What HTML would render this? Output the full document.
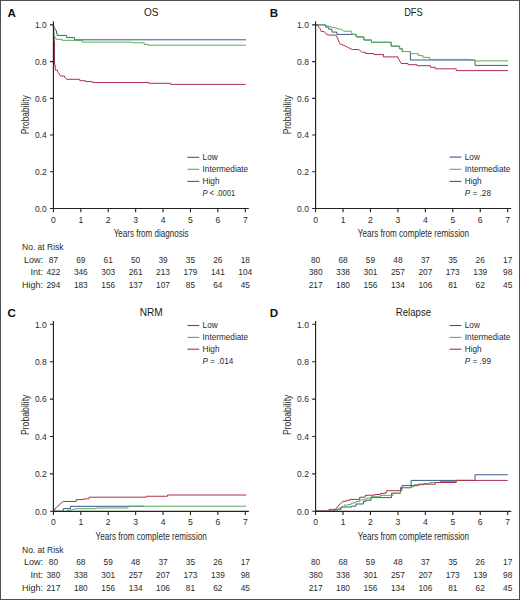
<!DOCTYPE html>
<html><head><meta charset="utf-8"><style>html,body{margin:0;padding:0;background:#fff;width:520px;height:600px;overflow:hidden;}body{font-family:"Liberation Sans", sans-serif;position:relative;}</style></head><body>
<svg width="520" height="600" viewBox="0 0 520 600" style="position:absolute;left:0;top:0" font-family="'Liberation Sans', sans-serif">
<rect x="0" y="0" width="520" height="600" fill="#fff"/>
<path d="M53.4 24.9 L54.5 27.5 L55.8 30.7 H56.5 V33.3 H57.2 V35.4 H66.7 V37.6 H74.5 V39.8 H246" fill="none" stroke="#395b8a" stroke-width="1.0" stroke-linejoin="miter"/>
<path d="M53.4 24.9 L54.2 33 L55 38.5 H56 V39.3 H62 V40.3 H75 V40.6 H82.3 V42.1 H132.3 V42.8 H144.2 V44.4 H148 V45.2 H246" fill="none" stroke="#5aae5a" stroke-width="1.0" stroke-linejoin="miter"/>
<path d="M53.9 36 L54.3 41 V65 H55.2 V70.2 H57.5 V71.3 L60.5 76 H64.5 V77 L66.5 79.3 H79.8 V80.7 H85.6 V81.6 H92.5 V82.5 H148.75 V83.3 H170.6 V84.4 H245.6" fill="none" stroke="#ad2f4c" stroke-width="1.0" stroke-linejoin="miter"/>
<path d="M54.3 41 V64" stroke="#7a2a40" stroke-width="1" fill="none"/>
<path d="M315.6 24.9 H325.6 V27.2 H328.7 V29.2 H331.9 V32.1 H336.8 V34.4 H356.2 V36.9 H363.8 V40 H371.5 V42.3 H391.2 V46.2 H399.6 V48.8 H402.3 V51.5 H410.4 V60 H475 V65.4 H508" fill="none" stroke="#395b8a" stroke-width="1.0" stroke-linejoin="miter"/>
<path d="M315.6 24.9 H325 L327 25.8 L331 26.9 L335 27.8 L338 28.7 L342 29.4 L343.5 31.2 H351.5 V32.3 L352.5 34.4 H356.2 V36.9 H363.8 V40 H371.5 V42.3 H391.2 V46.2 H399.6 V48.8 H402.3 V51.5 H410.3 V53.7 H418.5 V55.6 H422.8 V57.3 H429.5 V59.4 H470 V60.3 H475 V60.9 H508" fill="none" stroke="#5aae5a" stroke-width="1.0" stroke-linejoin="miter"/>
<path d="M315.6 24.9 H317.8 L318.5 27 L320 28.5 L321.2 31.5 H324.1 L326.4 34.4 L329.3 35.1 H336.2 V35.6 L337.5 38 L339 42 L340.3 44.2 L343 45 L347.7 47.3 L352.3 49.5 H358.8 L362.3 52.3 H365.4 V53.5 H373.8 V54.6 H383.5 V56.9 H398 V58 L401.2 63.5 H408 V64.7 H417 V65.7 H430.5 V67.3 H435.3 V68.8 H456.25 V70.6 H508" fill="none" stroke="#ad2f4c" stroke-width="1.0" stroke-linejoin="miter"/>
<path d="M53.4 511.3 H63.25 V508.6 H70.5 V506.3 H144" fill="none" stroke="#395b8a" stroke-width="1.0" stroke-linejoin="miter"/>
<path d="M53.4 511.3 H66 L69 510 H72 V509.5 L76 508.75 H95.9 V508 H128 V506.2 H246" fill="none" stroke="#5aae5a" stroke-width="1.0" stroke-linejoin="miter"/>
<path d="M53.4 511.3 L56.5 507 L60.1 504.4 L61.5 502.5 L63.5 501.5 H76.2 V499.6 H83.8 V498.8 H89.1 V497.2 H146.25 V496.25 H167.5 V495 H246.25" fill="none" stroke="#ad2f4c" stroke-width="1.0" stroke-linejoin="miter"/>
<path d="M315.6 511.2 H329 V509.4 H341 V507 H351.5 V506.2 H356 V504 H363.4 V501.5 H365.8 V500.3 H371.1 V497.6 H391.5 V493.3 H400.5 V487.7 H411.1 V480.4 H475 V474.75 H507.75" fill="none" stroke="#395b8a" stroke-width="1.0" stroke-linejoin="miter"/>
<path d="M315.6 511.2 H337 L339.5 507.8 H341.8 V506.8 H344.2 V505.1 H348 V504.6 H351 V503.2 H353 V502.8 H356 V501.5 H359.7 V500 H364.6 V499 H367 V498.2 H371.1 V496.7 H380.5 V495.4 H393 V493.1 H400.5 V490.3 L402 487.7 H410.5 V486.9 H414 V484.8 H423.8 V483.6 H429.6 V482.5 H440 V481.5 H456 V480.4 H470" fill="none" stroke="#5aae5a" stroke-width="1.0" stroke-linejoin="miter"/>
<path d="M315.6 511.2 H334 L335.4 509.4 L337.2 507.1 L339 505 L341.4 502.9 L342.5 501.3 H346.2 V500.3 H349.8 V499.4 H359.7 V497.2 H365.2 V495.4 H368 V495.2 H374.9 V494.5 H380.5 V493.4 H385.3 V492.4 H386.7 V490.7 H401.9 V485.6 H418.1 V484.2 H435.4 V482.5 H456.25 V480.4 H507.75" fill="none" stroke="#ad2f4c" stroke-width="1.0" stroke-linejoin="miter"/>
<path d="M53.40 21.30 V208.50 H248.87" fill="none" stroke="#222" stroke-width="1.15"/>
<path d="M50.00 208.50 H53.40 M50.00 171.78 H53.40 M50.00 135.06 H53.40 M50.00 98.34 H53.40 M50.00 61.62 H53.40 M50.00 24.90 H53.40 M53.40 208.50 V212.30 M80.81 208.50 V212.30 M108.22 208.50 V212.30 M135.63 208.50 V212.30 M163.04 208.50 V212.30 M190.45 208.50 V212.30 M217.86 208.50 V212.30 M245.27 208.50 V212.30" fill="none" stroke="#222" stroke-width="1.1"/>
<text x="46.70" y="211.70" font-size="9.0" text-anchor="end" font-weight="normal" font-style="normal" fill="#2a2a2a" textLength="11.8" lengthAdjust="spacingAndGlyphs">0.0</text>
<text x="46.70" y="174.98" font-size="9.0" text-anchor="end" font-weight="normal" font-style="normal" fill="#2a2a2a" textLength="11.8" lengthAdjust="spacingAndGlyphs">0.2</text>
<text x="46.70" y="138.26" font-size="9.0" text-anchor="end" font-weight="normal" font-style="normal" fill="#2a2a2a" textLength="11.8" lengthAdjust="spacingAndGlyphs">0.4</text>
<text x="46.70" y="101.54" font-size="9.0" text-anchor="end" font-weight="normal" font-style="normal" fill="#2a2a2a" textLength="11.8" lengthAdjust="spacingAndGlyphs">0.6</text>
<text x="46.70" y="64.82" font-size="9.0" text-anchor="end" font-weight="normal" font-style="normal" fill="#2a2a2a" textLength="11.8" lengthAdjust="spacingAndGlyphs">0.8</text>
<text x="46.70" y="28.10" font-size="9.0" text-anchor="end" font-weight="normal" font-style="normal" fill="#2a2a2a" textLength="11.8" lengthAdjust="spacingAndGlyphs">1.0</text>
<text x="53.40" y="222.50" font-size="8.6" text-anchor="middle" font-weight="normal" font-style="normal" fill="#2a2a2a" >0</text>
<text x="80.81" y="222.50" font-size="8.6" text-anchor="middle" font-weight="normal" font-style="normal" fill="#2a2a2a" >1</text>
<text x="108.22" y="222.50" font-size="8.6" text-anchor="middle" font-weight="normal" font-style="normal" fill="#2a2a2a" >2</text>
<text x="135.63" y="222.50" font-size="8.6" text-anchor="middle" font-weight="normal" font-style="normal" fill="#2a2a2a" >3</text>
<text x="163.04" y="222.50" font-size="8.6" text-anchor="middle" font-weight="normal" font-style="normal" fill="#2a2a2a" >4</text>
<text x="190.45" y="222.50" font-size="8.6" text-anchor="middle" font-weight="normal" font-style="normal" fill="#2a2a2a" >5</text>
<text x="217.86" y="222.50" font-size="8.6" text-anchor="middle" font-weight="normal" font-style="normal" fill="#2a2a2a" >6</text>
<text x="245.27" y="222.50" font-size="8.6" text-anchor="middle" font-weight="normal" font-style="normal" fill="#2a2a2a" >7</text>
<text x="151.13" y="15.90" font-size="10.4" text-anchor="middle" font-weight="normal" font-style="normal" fill="#1a1a1a" textLength="14.5" lengthAdjust="spacingAndGlyphs">OS</text>
<text x="7.60" y="17.30" font-size="11.6" text-anchor="start" font-weight="bold" font-style="normal" fill="#111" >A</text>
<text x="151.13" y="236.50" font-size="10.2" text-anchor="middle" font-weight="normal" font-style="normal" fill="#2a2a2a" textLength="75" lengthAdjust="spacingAndGlyphs">Years from diagnosis</text>
<text transform="translate(28.60 114.80) rotate(-90)" x="0" y="0" font-size="10" text-anchor="middle" fill="#2a2a2a" textLength="39" lengthAdjust="spacingAndGlyphs">Probability</text>
<path d="M187.40 157.30 H199.20" stroke="#395b8a" stroke-width="1.1"/>
<text x="202.60" y="160.20" font-size="8.2" text-anchor="start" font-weight="normal" font-style="normal" fill="#2a2a2a" >Low</text>
<path d="M187.40 169.30 H199.20" stroke="#5aae5a" stroke-width="1.1"/>
<text x="202.60" y="172.20" font-size="8.2" text-anchor="start" font-weight="normal" font-style="normal" fill="#2a2a2a" >Intermediate</text>
<path d="M187.40 181.40 H199.20" stroke="#ad2f4c" stroke-width="1.1"/>
<text x="202.60" y="184.30" font-size="8.2" text-anchor="start" font-weight="normal" font-style="normal" fill="#2a2a2a" >High</text>
<text x="202.60" y="195.80" font-size="8.2" fill="#2a2a2a" textLength="32.5" lengthAdjust="spacingAndGlyphs"><tspan font-style="italic">P</tspan> &lt; .0001</text>
<text x="22.00" y="250.00" font-size="9.0" text-anchor="start" font-weight="normal" font-style="normal" fill="#2a2a2a" textLength="41.6" lengthAdjust="spacingAndGlyphs">No. at Risk</text>
<text x="43.00" y="262.60" font-size="9.0" text-anchor="end" font-weight="normal" font-style="normal" fill="#2a2a2a" >Low:</text>
<text x="43.00" y="275.40" font-size="9.0" text-anchor="end" font-weight="normal" font-style="normal" fill="#2a2a2a" >Int:</text>
<text x="43.00" y="288.00" font-size="9.0" text-anchor="end" font-weight="normal" font-style="normal" fill="#2a2a2a" >High:</text>
<text x="53.40" y="262.60" font-size="9.4" text-anchor="middle" font-weight="normal" font-style="normal" fill="#2a2a2a" textLength="9.24" lengthAdjust="spacingAndGlyphs">87</text>
<text x="80.81" y="262.60" font-size="9.4" text-anchor="middle" font-weight="normal" font-style="normal" fill="#2a2a2a" textLength="9.24" lengthAdjust="spacingAndGlyphs">69</text>
<text x="108.22" y="262.60" font-size="9.4" text-anchor="middle" font-weight="normal" font-style="normal" fill="#2a2a2a" textLength="9.24" lengthAdjust="spacingAndGlyphs">61</text>
<text x="135.63" y="262.60" font-size="9.4" text-anchor="middle" font-weight="normal" font-style="normal" fill="#2a2a2a" textLength="9.24" lengthAdjust="spacingAndGlyphs">50</text>
<text x="163.04" y="262.60" font-size="9.4" text-anchor="middle" font-weight="normal" font-style="normal" fill="#2a2a2a" textLength="9.24" lengthAdjust="spacingAndGlyphs">39</text>
<text x="190.45" y="262.60" font-size="9.4" text-anchor="middle" font-weight="normal" font-style="normal" fill="#2a2a2a" textLength="9.24" lengthAdjust="spacingAndGlyphs">35</text>
<text x="217.86" y="262.60" font-size="9.4" text-anchor="middle" font-weight="normal" font-style="normal" fill="#2a2a2a" textLength="9.24" lengthAdjust="spacingAndGlyphs">26</text>
<text x="245.27" y="262.60" font-size="9.4" text-anchor="middle" font-weight="normal" font-style="normal" fill="#2a2a2a" textLength="9.24" lengthAdjust="spacingAndGlyphs">18</text>
<text x="53.40" y="275.40" font-size="9.4" text-anchor="middle" font-weight="normal" font-style="normal" fill="#2a2a2a" textLength="13.86" lengthAdjust="spacingAndGlyphs">422</text>
<text x="80.81" y="275.40" font-size="9.4" text-anchor="middle" font-weight="normal" font-style="normal" fill="#2a2a2a" textLength="13.86" lengthAdjust="spacingAndGlyphs">346</text>
<text x="108.22" y="275.40" font-size="9.4" text-anchor="middle" font-weight="normal" font-style="normal" fill="#2a2a2a" textLength="13.86" lengthAdjust="spacingAndGlyphs">303</text>
<text x="135.63" y="275.40" font-size="9.4" text-anchor="middle" font-weight="normal" font-style="normal" fill="#2a2a2a" textLength="13.86" lengthAdjust="spacingAndGlyphs">261</text>
<text x="163.04" y="275.40" font-size="9.4" text-anchor="middle" font-weight="normal" font-style="normal" fill="#2a2a2a" textLength="13.86" lengthAdjust="spacingAndGlyphs">213</text>
<text x="190.45" y="275.40" font-size="9.4" text-anchor="middle" font-weight="normal" font-style="normal" fill="#2a2a2a" textLength="13.86" lengthAdjust="spacingAndGlyphs">179</text>
<text x="217.86" y="275.40" font-size="9.4" text-anchor="middle" font-weight="normal" font-style="normal" fill="#2a2a2a" textLength="13.86" lengthAdjust="spacingAndGlyphs">141</text>
<text x="245.27" y="275.40" font-size="9.4" text-anchor="middle" font-weight="normal" font-style="normal" fill="#2a2a2a" textLength="13.86" lengthAdjust="spacingAndGlyphs">104</text>
<text x="53.40" y="288.00" font-size="9.4" text-anchor="middle" font-weight="normal" font-style="normal" fill="#2a2a2a" textLength="13.86" lengthAdjust="spacingAndGlyphs">294</text>
<text x="80.81" y="288.00" font-size="9.4" text-anchor="middle" font-weight="normal" font-style="normal" fill="#2a2a2a" textLength="13.86" lengthAdjust="spacingAndGlyphs">183</text>
<text x="108.22" y="288.00" font-size="9.4" text-anchor="middle" font-weight="normal" font-style="normal" fill="#2a2a2a" textLength="13.86" lengthAdjust="spacingAndGlyphs">156</text>
<text x="135.63" y="288.00" font-size="9.4" text-anchor="middle" font-weight="normal" font-style="normal" fill="#2a2a2a" textLength="13.86" lengthAdjust="spacingAndGlyphs">137</text>
<text x="163.04" y="288.00" font-size="9.4" text-anchor="middle" font-weight="normal" font-style="normal" fill="#2a2a2a" textLength="13.86" lengthAdjust="spacingAndGlyphs">107</text>
<text x="190.45" y="288.00" font-size="9.4" text-anchor="middle" font-weight="normal" font-style="normal" fill="#2a2a2a" textLength="9.24" lengthAdjust="spacingAndGlyphs">85</text>
<text x="217.86" y="288.00" font-size="9.4" text-anchor="middle" font-weight="normal" font-style="normal" fill="#2a2a2a" textLength="9.24" lengthAdjust="spacingAndGlyphs">64</text>
<text x="245.27" y="288.00" font-size="9.4" text-anchor="middle" font-weight="normal" font-style="normal" fill="#2a2a2a" textLength="9.24" lengthAdjust="spacingAndGlyphs">45</text>
<path d="M315.60 21.30 V208.50 H511.28" fill="none" stroke="#222" stroke-width="1.15"/>
<path d="M312.20 208.50 H315.60 M312.20 171.78 H315.60 M312.20 135.06 H315.60 M312.20 98.34 H315.60 M312.20 61.62 H315.60 M312.20 24.90 H315.60 M315.60 208.50 V212.30 M343.04 208.50 V212.30 M370.48 208.50 V212.30 M397.92 208.50 V212.30 M425.36 208.50 V212.30 M452.80 208.50 V212.30 M480.24 208.50 V212.30 M507.68 208.50 V212.30" fill="none" stroke="#222" stroke-width="1.1"/>
<text x="308.90" y="211.70" font-size="9.0" text-anchor="end" font-weight="normal" font-style="normal" fill="#2a2a2a" textLength="11.8" lengthAdjust="spacingAndGlyphs">0.0</text>
<text x="308.90" y="174.98" font-size="9.0" text-anchor="end" font-weight="normal" font-style="normal" fill="#2a2a2a" textLength="11.8" lengthAdjust="spacingAndGlyphs">0.2</text>
<text x="308.90" y="138.26" font-size="9.0" text-anchor="end" font-weight="normal" font-style="normal" fill="#2a2a2a" textLength="11.8" lengthAdjust="spacingAndGlyphs">0.4</text>
<text x="308.90" y="101.54" font-size="9.0" text-anchor="end" font-weight="normal" font-style="normal" fill="#2a2a2a" textLength="11.8" lengthAdjust="spacingAndGlyphs">0.6</text>
<text x="308.90" y="64.82" font-size="9.0" text-anchor="end" font-weight="normal" font-style="normal" fill="#2a2a2a" textLength="11.8" lengthAdjust="spacingAndGlyphs">0.8</text>
<text x="308.90" y="28.10" font-size="9.0" text-anchor="end" font-weight="normal" font-style="normal" fill="#2a2a2a" textLength="11.8" lengthAdjust="spacingAndGlyphs">1.0</text>
<text x="315.60" y="222.50" font-size="8.6" text-anchor="middle" font-weight="normal" font-style="normal" fill="#2a2a2a" >0</text>
<text x="343.04" y="222.50" font-size="8.6" text-anchor="middle" font-weight="normal" font-style="normal" fill="#2a2a2a" >1</text>
<text x="370.48" y="222.50" font-size="8.6" text-anchor="middle" font-weight="normal" font-style="normal" fill="#2a2a2a" >2</text>
<text x="397.92" y="222.50" font-size="8.6" text-anchor="middle" font-weight="normal" font-style="normal" fill="#2a2a2a" >3</text>
<text x="425.36" y="222.50" font-size="8.6" text-anchor="middle" font-weight="normal" font-style="normal" fill="#2a2a2a" >4</text>
<text x="452.80" y="222.50" font-size="8.6" text-anchor="middle" font-weight="normal" font-style="normal" fill="#2a2a2a" >5</text>
<text x="480.24" y="222.50" font-size="8.6" text-anchor="middle" font-weight="normal" font-style="normal" fill="#2a2a2a" >6</text>
<text x="507.68" y="222.50" font-size="8.6" text-anchor="middle" font-weight="normal" font-style="normal" fill="#2a2a2a" >7</text>
<text x="413.44" y="15.90" font-size="10.4" text-anchor="middle" font-weight="normal" font-style="normal" fill="#1a1a1a" textLength="18.5" lengthAdjust="spacingAndGlyphs">DFS</text>
<text x="269.80" y="17.30" font-size="11.6" text-anchor="start" font-weight="bold" font-style="normal" fill="#111" >B</text>
<text x="413.44" y="236.50" font-size="10.2" text-anchor="middle" font-weight="normal" font-style="normal" fill="#2a2a2a" textLength="111.3" lengthAdjust="spacingAndGlyphs">Years from complete remission</text>
<text transform="translate(290.80 114.80) rotate(-90)" x="0" y="0" font-size="10" text-anchor="middle" fill="#2a2a2a" textLength="39" lengthAdjust="spacingAndGlyphs">Probability</text>
<path d="M449.60 157.10 H461.40" stroke="#395b8a" stroke-width="1.1"/>
<text x="464.80" y="160.00" font-size="8.2" text-anchor="start" font-weight="normal" font-style="normal" fill="#2a2a2a" >Low</text>
<path d="M449.60 169.30 H461.40" stroke="#5aae5a" stroke-width="1.1"/>
<text x="464.80" y="172.20" font-size="8.2" text-anchor="start" font-weight="normal" font-style="normal" fill="#2a2a2a" >Intermediate</text>
<path d="M449.60 181.40 H461.40" stroke="#ad2f4c" stroke-width="1.1"/>
<text x="464.80" y="184.30" font-size="8.2" text-anchor="start" font-weight="normal" font-style="normal" fill="#2a2a2a" >High</text>
<text x="464.80" y="195.80" font-size="8.2" fill="#2a2a2a"><tspan font-style="italic">P</tspan> = .28</text>
<text x="315.60" y="262.60" font-size="9.4" text-anchor="middle" font-weight="normal" font-style="normal" fill="#2a2a2a" textLength="9.24" lengthAdjust="spacingAndGlyphs">80</text>
<text x="343.04" y="262.60" font-size="9.4" text-anchor="middle" font-weight="normal" font-style="normal" fill="#2a2a2a" textLength="9.24" lengthAdjust="spacingAndGlyphs">68</text>
<text x="370.48" y="262.60" font-size="9.4" text-anchor="middle" font-weight="normal" font-style="normal" fill="#2a2a2a" textLength="9.24" lengthAdjust="spacingAndGlyphs">59</text>
<text x="397.92" y="262.60" font-size="9.4" text-anchor="middle" font-weight="normal" font-style="normal" fill="#2a2a2a" textLength="9.24" lengthAdjust="spacingAndGlyphs">48</text>
<text x="425.36" y="262.60" font-size="9.4" text-anchor="middle" font-weight="normal" font-style="normal" fill="#2a2a2a" textLength="9.24" lengthAdjust="spacingAndGlyphs">37</text>
<text x="452.80" y="262.60" font-size="9.4" text-anchor="middle" font-weight="normal" font-style="normal" fill="#2a2a2a" textLength="9.24" lengthAdjust="spacingAndGlyphs">35</text>
<text x="480.24" y="262.60" font-size="9.4" text-anchor="middle" font-weight="normal" font-style="normal" fill="#2a2a2a" textLength="9.24" lengthAdjust="spacingAndGlyphs">26</text>
<text x="507.68" y="262.60" font-size="9.4" text-anchor="middle" font-weight="normal" font-style="normal" fill="#2a2a2a" textLength="9.24" lengthAdjust="spacingAndGlyphs">17</text>
<text x="315.60" y="275.40" font-size="9.4" text-anchor="middle" font-weight="normal" font-style="normal" fill="#2a2a2a" textLength="13.86" lengthAdjust="spacingAndGlyphs">380</text>
<text x="343.04" y="275.40" font-size="9.4" text-anchor="middle" font-weight="normal" font-style="normal" fill="#2a2a2a" textLength="13.86" lengthAdjust="spacingAndGlyphs">338</text>
<text x="370.48" y="275.40" font-size="9.4" text-anchor="middle" font-weight="normal" font-style="normal" fill="#2a2a2a" textLength="13.86" lengthAdjust="spacingAndGlyphs">301</text>
<text x="397.92" y="275.40" font-size="9.4" text-anchor="middle" font-weight="normal" font-style="normal" fill="#2a2a2a" textLength="13.86" lengthAdjust="spacingAndGlyphs">257</text>
<text x="425.36" y="275.40" font-size="9.4" text-anchor="middle" font-weight="normal" font-style="normal" fill="#2a2a2a" textLength="13.86" lengthAdjust="spacingAndGlyphs">207</text>
<text x="452.80" y="275.40" font-size="9.4" text-anchor="middle" font-weight="normal" font-style="normal" fill="#2a2a2a" textLength="13.86" lengthAdjust="spacingAndGlyphs">173</text>
<text x="480.24" y="275.40" font-size="9.4" text-anchor="middle" font-weight="normal" font-style="normal" fill="#2a2a2a" textLength="13.86" lengthAdjust="spacingAndGlyphs">139</text>
<text x="507.68" y="275.40" font-size="9.4" text-anchor="middle" font-weight="normal" font-style="normal" fill="#2a2a2a" textLength="9.24" lengthAdjust="spacingAndGlyphs">98</text>
<text x="315.60" y="288.00" font-size="9.4" text-anchor="middle" font-weight="normal" font-style="normal" fill="#2a2a2a" textLength="13.86" lengthAdjust="spacingAndGlyphs">217</text>
<text x="343.04" y="288.00" font-size="9.4" text-anchor="middle" font-weight="normal" font-style="normal" fill="#2a2a2a" textLength="13.86" lengthAdjust="spacingAndGlyphs">180</text>
<text x="370.48" y="288.00" font-size="9.4" text-anchor="middle" font-weight="normal" font-style="normal" fill="#2a2a2a" textLength="13.86" lengthAdjust="spacingAndGlyphs">156</text>
<text x="397.92" y="288.00" font-size="9.4" text-anchor="middle" font-weight="normal" font-style="normal" fill="#2a2a2a" textLength="13.86" lengthAdjust="spacingAndGlyphs">134</text>
<text x="425.36" y="288.00" font-size="9.4" text-anchor="middle" font-weight="normal" font-style="normal" fill="#2a2a2a" textLength="13.86" lengthAdjust="spacingAndGlyphs">106</text>
<text x="452.80" y="288.00" font-size="9.4" text-anchor="middle" font-weight="normal" font-style="normal" fill="#2a2a2a" textLength="9.24" lengthAdjust="spacingAndGlyphs">81</text>
<text x="480.24" y="288.00" font-size="9.4" text-anchor="middle" font-weight="normal" font-style="normal" fill="#2a2a2a" textLength="9.24" lengthAdjust="spacingAndGlyphs">62</text>
<text x="507.68" y="288.00" font-size="9.4" text-anchor="middle" font-weight="normal" font-style="normal" fill="#2a2a2a" textLength="9.24" lengthAdjust="spacingAndGlyphs">45</text>
<path d="M53.40 321.10 V511.30 H248.87" fill="none" stroke="#222" stroke-width="1.15"/>
<path d="M50.00 511.30 H53.40 M50.00 473.90 H53.40 M50.00 436.50 H53.40 M50.00 399.10 H53.40 M50.00 361.70 H53.40 M50.00 324.30 H53.40 M53.40 511.30 V515.10 M80.81 511.30 V515.10 M108.22 511.30 V515.10 M135.63 511.30 V515.10 M163.04 511.30 V515.10 M190.45 511.30 V515.10 M217.86 511.30 V515.10 M245.27 511.30 V515.10" fill="none" stroke="#222" stroke-width="1.1"/>
<text x="46.70" y="514.50" font-size="9.0" text-anchor="end" font-weight="normal" font-style="normal" fill="#2a2a2a" textLength="11.8" lengthAdjust="spacingAndGlyphs">0.0</text>
<text x="46.70" y="477.10" font-size="9.0" text-anchor="end" font-weight="normal" font-style="normal" fill="#2a2a2a" textLength="11.8" lengthAdjust="spacingAndGlyphs">0.2</text>
<text x="46.70" y="439.70" font-size="9.0" text-anchor="end" font-weight="normal" font-style="normal" fill="#2a2a2a" textLength="11.8" lengthAdjust="spacingAndGlyphs">0.4</text>
<text x="46.70" y="402.30" font-size="9.0" text-anchor="end" font-weight="normal" font-style="normal" fill="#2a2a2a" textLength="11.8" lengthAdjust="spacingAndGlyphs">0.6</text>
<text x="46.70" y="364.90" font-size="9.0" text-anchor="end" font-weight="normal" font-style="normal" fill="#2a2a2a" textLength="11.8" lengthAdjust="spacingAndGlyphs">0.8</text>
<text x="46.70" y="327.50" font-size="9.0" text-anchor="end" font-weight="normal" font-style="normal" fill="#2a2a2a" textLength="11.8" lengthAdjust="spacingAndGlyphs">1.0</text>
<text x="53.40" y="525.30" font-size="8.6" text-anchor="middle" font-weight="normal" font-style="normal" fill="#2a2a2a" >0</text>
<text x="80.81" y="525.30" font-size="8.6" text-anchor="middle" font-weight="normal" font-style="normal" fill="#2a2a2a" >1</text>
<text x="108.22" y="525.30" font-size="8.6" text-anchor="middle" font-weight="normal" font-style="normal" fill="#2a2a2a" >2</text>
<text x="135.63" y="525.30" font-size="8.6" text-anchor="middle" font-weight="normal" font-style="normal" fill="#2a2a2a" >3</text>
<text x="163.04" y="525.30" font-size="8.6" text-anchor="middle" font-weight="normal" font-style="normal" fill="#2a2a2a" >4</text>
<text x="190.45" y="525.30" font-size="8.6" text-anchor="middle" font-weight="normal" font-style="normal" fill="#2a2a2a" >5</text>
<text x="217.86" y="525.30" font-size="8.6" text-anchor="middle" font-weight="normal" font-style="normal" fill="#2a2a2a" >6</text>
<text x="245.27" y="525.30" font-size="8.6" text-anchor="middle" font-weight="normal" font-style="normal" fill="#2a2a2a" >7</text>
<text x="151.13" y="315.50" font-size="10.4" text-anchor="middle" font-weight="normal" font-style="normal" fill="#1a1a1a" textLength="23.0" lengthAdjust="spacingAndGlyphs">NRM</text>
<text x="7.60" y="316.90" font-size="11.6" text-anchor="start" font-weight="bold" font-style="normal" fill="#111" >C</text>
<text x="151.13" y="540.00" font-size="10.2" text-anchor="middle" font-weight="normal" font-style="normal" fill="#2a2a2a" textLength="111.3" lengthAdjust="spacingAndGlyphs">Years from complete remission</text>
<text transform="translate(28.60 414.80) rotate(-90)" x="0" y="0" font-size="10" text-anchor="middle" fill="#2a2a2a" textLength="40.5" lengthAdjust="spacingAndGlyphs">Probability</text>
<path d="M187.40 325.50 H199.20" stroke="#395b8a" stroke-width="1.1"/>
<text x="202.60" y="328.40" font-size="8.2" text-anchor="start" font-weight="normal" font-style="normal" fill="#2a2a2a" >Low</text>
<path d="M187.40 337.40 H199.20" stroke="#5aae5a" stroke-width="1.1"/>
<text x="202.60" y="340.30" font-size="8.2" text-anchor="start" font-weight="normal" font-style="normal" fill="#2a2a2a" >Intermediate</text>
<path d="M187.40 349.20 H199.20" stroke="#ad2f4c" stroke-width="1.1"/>
<text x="202.60" y="352.10" font-size="8.2" text-anchor="start" font-weight="normal" font-style="normal" fill="#2a2a2a" >High</text>
<text x="202.60" y="363.90" font-size="8.2" fill="#2a2a2a"><tspan font-style="italic">P</tspan> = .014</text>
<text x="22.00" y="552.80" font-size="9.0" text-anchor="start" font-weight="normal" font-style="normal" fill="#2a2a2a" textLength="41.6" lengthAdjust="spacingAndGlyphs">No. at Risk</text>
<text x="43.00" y="565.40" font-size="9.0" text-anchor="end" font-weight="normal" font-style="normal" fill="#2a2a2a" >Low:</text>
<text x="43.00" y="578.20" font-size="9.0" text-anchor="end" font-weight="normal" font-style="normal" fill="#2a2a2a" >Int:</text>
<text x="43.00" y="590.80" font-size="9.0" text-anchor="end" font-weight="normal" font-style="normal" fill="#2a2a2a" >High:</text>
<text x="53.40" y="565.40" font-size="9.4" text-anchor="middle" font-weight="normal" font-style="normal" fill="#2a2a2a" textLength="9.24" lengthAdjust="spacingAndGlyphs">80</text>
<text x="80.81" y="565.40" font-size="9.4" text-anchor="middle" font-weight="normal" font-style="normal" fill="#2a2a2a" textLength="9.24" lengthAdjust="spacingAndGlyphs">68</text>
<text x="108.22" y="565.40" font-size="9.4" text-anchor="middle" font-weight="normal" font-style="normal" fill="#2a2a2a" textLength="9.24" lengthAdjust="spacingAndGlyphs">59</text>
<text x="135.63" y="565.40" font-size="9.4" text-anchor="middle" font-weight="normal" font-style="normal" fill="#2a2a2a" textLength="9.24" lengthAdjust="spacingAndGlyphs">48</text>
<text x="163.04" y="565.40" font-size="9.4" text-anchor="middle" font-weight="normal" font-style="normal" fill="#2a2a2a" textLength="9.24" lengthAdjust="spacingAndGlyphs">37</text>
<text x="190.45" y="565.40" font-size="9.4" text-anchor="middle" font-weight="normal" font-style="normal" fill="#2a2a2a" textLength="9.24" lengthAdjust="spacingAndGlyphs">35</text>
<text x="217.86" y="565.40" font-size="9.4" text-anchor="middle" font-weight="normal" font-style="normal" fill="#2a2a2a" textLength="9.24" lengthAdjust="spacingAndGlyphs">26</text>
<text x="245.27" y="565.40" font-size="9.4" text-anchor="middle" font-weight="normal" font-style="normal" fill="#2a2a2a" textLength="9.24" lengthAdjust="spacingAndGlyphs">17</text>
<text x="53.40" y="578.20" font-size="9.4" text-anchor="middle" font-weight="normal" font-style="normal" fill="#2a2a2a" textLength="13.86" lengthAdjust="spacingAndGlyphs">380</text>
<text x="80.81" y="578.20" font-size="9.4" text-anchor="middle" font-weight="normal" font-style="normal" fill="#2a2a2a" textLength="13.86" lengthAdjust="spacingAndGlyphs">338</text>
<text x="108.22" y="578.20" font-size="9.4" text-anchor="middle" font-weight="normal" font-style="normal" fill="#2a2a2a" textLength="13.86" lengthAdjust="spacingAndGlyphs">301</text>
<text x="135.63" y="578.20" font-size="9.4" text-anchor="middle" font-weight="normal" font-style="normal" fill="#2a2a2a" textLength="13.86" lengthAdjust="spacingAndGlyphs">257</text>
<text x="163.04" y="578.20" font-size="9.4" text-anchor="middle" font-weight="normal" font-style="normal" fill="#2a2a2a" textLength="13.86" lengthAdjust="spacingAndGlyphs">207</text>
<text x="190.45" y="578.20" font-size="9.4" text-anchor="middle" font-weight="normal" font-style="normal" fill="#2a2a2a" textLength="13.86" lengthAdjust="spacingAndGlyphs">173</text>
<text x="217.86" y="578.20" font-size="9.4" text-anchor="middle" font-weight="normal" font-style="normal" fill="#2a2a2a" textLength="13.86" lengthAdjust="spacingAndGlyphs">139</text>
<text x="245.27" y="578.20" font-size="9.4" text-anchor="middle" font-weight="normal" font-style="normal" fill="#2a2a2a" textLength="9.24" lengthAdjust="spacingAndGlyphs">98</text>
<text x="53.40" y="590.80" font-size="9.4" text-anchor="middle" font-weight="normal" font-style="normal" fill="#2a2a2a" textLength="13.86" lengthAdjust="spacingAndGlyphs">217</text>
<text x="80.81" y="590.80" font-size="9.4" text-anchor="middle" font-weight="normal" font-style="normal" fill="#2a2a2a" textLength="13.86" lengthAdjust="spacingAndGlyphs">180</text>
<text x="108.22" y="590.80" font-size="9.4" text-anchor="middle" font-weight="normal" font-style="normal" fill="#2a2a2a" textLength="13.86" lengthAdjust="spacingAndGlyphs">156</text>
<text x="135.63" y="590.80" font-size="9.4" text-anchor="middle" font-weight="normal" font-style="normal" fill="#2a2a2a" textLength="13.86" lengthAdjust="spacingAndGlyphs">134</text>
<text x="163.04" y="590.80" font-size="9.4" text-anchor="middle" font-weight="normal" font-style="normal" fill="#2a2a2a" textLength="13.86" lengthAdjust="spacingAndGlyphs">106</text>
<text x="190.45" y="590.80" font-size="9.4" text-anchor="middle" font-weight="normal" font-style="normal" fill="#2a2a2a" textLength="9.24" lengthAdjust="spacingAndGlyphs">81</text>
<text x="217.86" y="590.80" font-size="9.4" text-anchor="middle" font-weight="normal" font-style="normal" fill="#2a2a2a" textLength="9.24" lengthAdjust="spacingAndGlyphs">62</text>
<text x="245.27" y="590.80" font-size="9.4" text-anchor="middle" font-weight="normal" font-style="normal" fill="#2a2a2a" textLength="9.24" lengthAdjust="spacingAndGlyphs">45</text>
<path d="M315.60 321.10 V511.30 H511.28" fill="none" stroke="#222" stroke-width="1.15"/>
<path d="M312.20 511.30 H315.60 M312.20 473.90 H315.60 M312.20 436.50 H315.60 M312.20 399.10 H315.60 M312.20 361.70 H315.60 M312.20 324.30 H315.60 M315.60 511.30 V515.10 M343.04 511.30 V515.10 M370.48 511.30 V515.10 M397.92 511.30 V515.10 M425.36 511.30 V515.10 M452.80 511.30 V515.10 M480.24 511.30 V515.10 M507.68 511.30 V515.10" fill="none" stroke="#222" stroke-width="1.1"/>
<text x="308.90" y="514.50" font-size="9.0" text-anchor="end" font-weight="normal" font-style="normal" fill="#2a2a2a" textLength="11.8" lengthAdjust="spacingAndGlyphs">0.0</text>
<text x="308.90" y="477.10" font-size="9.0" text-anchor="end" font-weight="normal" font-style="normal" fill="#2a2a2a" textLength="11.8" lengthAdjust="spacingAndGlyphs">0.2</text>
<text x="308.90" y="439.70" font-size="9.0" text-anchor="end" font-weight="normal" font-style="normal" fill="#2a2a2a" textLength="11.8" lengthAdjust="spacingAndGlyphs">0.4</text>
<text x="308.90" y="402.30" font-size="9.0" text-anchor="end" font-weight="normal" font-style="normal" fill="#2a2a2a" textLength="11.8" lengthAdjust="spacingAndGlyphs">0.6</text>
<text x="308.90" y="364.90" font-size="9.0" text-anchor="end" font-weight="normal" font-style="normal" fill="#2a2a2a" textLength="11.8" lengthAdjust="spacingAndGlyphs">0.8</text>
<text x="308.90" y="327.50" font-size="9.0" text-anchor="end" font-weight="normal" font-style="normal" fill="#2a2a2a" textLength="11.8" lengthAdjust="spacingAndGlyphs">1.0</text>
<text x="315.60" y="525.30" font-size="8.6" text-anchor="middle" font-weight="normal" font-style="normal" fill="#2a2a2a" >0</text>
<text x="343.04" y="525.30" font-size="8.6" text-anchor="middle" font-weight="normal" font-style="normal" fill="#2a2a2a" >1</text>
<text x="370.48" y="525.30" font-size="8.6" text-anchor="middle" font-weight="normal" font-style="normal" fill="#2a2a2a" >2</text>
<text x="397.92" y="525.30" font-size="8.6" text-anchor="middle" font-weight="normal" font-style="normal" fill="#2a2a2a" >3</text>
<text x="425.36" y="525.30" font-size="8.6" text-anchor="middle" font-weight="normal" font-style="normal" fill="#2a2a2a" >4</text>
<text x="452.80" y="525.30" font-size="8.6" text-anchor="middle" font-weight="normal" font-style="normal" fill="#2a2a2a" >5</text>
<text x="480.24" y="525.30" font-size="8.6" text-anchor="middle" font-weight="normal" font-style="normal" fill="#2a2a2a" >6</text>
<text x="507.68" y="525.30" font-size="8.6" text-anchor="middle" font-weight="normal" font-style="normal" fill="#2a2a2a" >7</text>
<text x="413.44" y="315.50" font-size="10.4" text-anchor="middle" font-weight="normal" font-style="normal" fill="#1a1a1a" textLength="35.2" lengthAdjust="spacingAndGlyphs">Relapse</text>
<text x="269.80" y="316.90" font-size="11.6" text-anchor="start" font-weight="bold" font-style="normal" fill="#111" >D</text>
<text x="413.44" y="540.00" font-size="10.2" text-anchor="middle" font-weight="normal" font-style="normal" fill="#2a2a2a" textLength="111.3" lengthAdjust="spacingAndGlyphs">Years from complete remission</text>
<text transform="translate(290.80 414.80) rotate(-90)" x="0" y="0" font-size="10" text-anchor="middle" fill="#2a2a2a" textLength="40.5" lengthAdjust="spacingAndGlyphs">Probability</text>
<path d="M449.60 325.50 H461.40" stroke="#395b8a" stroke-width="1.1"/>
<text x="464.80" y="328.40" font-size="8.2" text-anchor="start" font-weight="normal" font-style="normal" fill="#2a2a2a" >Low</text>
<path d="M449.60 337.40 H461.40" stroke="#5aae5a" stroke-width="1.1"/>
<text x="464.80" y="340.30" font-size="8.2" text-anchor="start" font-weight="normal" font-style="normal" fill="#2a2a2a" >Intermediate</text>
<path d="M449.60 349.20 H461.40" stroke="#ad2f4c" stroke-width="1.1"/>
<text x="464.80" y="352.10" font-size="8.2" text-anchor="start" font-weight="normal" font-style="normal" fill="#2a2a2a" >High</text>
<text x="464.80" y="363.90" font-size="8.2" fill="#2a2a2a"><tspan font-style="italic">P</tspan> = .99</text>
<text x="315.60" y="565.40" font-size="9.4" text-anchor="middle" font-weight="normal" font-style="normal" fill="#2a2a2a" textLength="9.24" lengthAdjust="spacingAndGlyphs">80</text>
<text x="343.04" y="565.40" font-size="9.4" text-anchor="middle" font-weight="normal" font-style="normal" fill="#2a2a2a" textLength="9.24" lengthAdjust="spacingAndGlyphs">68</text>
<text x="370.48" y="565.40" font-size="9.4" text-anchor="middle" font-weight="normal" font-style="normal" fill="#2a2a2a" textLength="9.24" lengthAdjust="spacingAndGlyphs">59</text>
<text x="397.92" y="565.40" font-size="9.4" text-anchor="middle" font-weight="normal" font-style="normal" fill="#2a2a2a" textLength="9.24" lengthAdjust="spacingAndGlyphs">48</text>
<text x="425.36" y="565.40" font-size="9.4" text-anchor="middle" font-weight="normal" font-style="normal" fill="#2a2a2a" textLength="9.24" lengthAdjust="spacingAndGlyphs">37</text>
<text x="452.80" y="565.40" font-size="9.4" text-anchor="middle" font-weight="normal" font-style="normal" fill="#2a2a2a" textLength="9.24" lengthAdjust="spacingAndGlyphs">35</text>
<text x="480.24" y="565.40" font-size="9.4" text-anchor="middle" font-weight="normal" font-style="normal" fill="#2a2a2a" textLength="9.24" lengthAdjust="spacingAndGlyphs">26</text>
<text x="507.68" y="565.40" font-size="9.4" text-anchor="middle" font-weight="normal" font-style="normal" fill="#2a2a2a" textLength="9.24" lengthAdjust="spacingAndGlyphs">17</text>
<text x="315.60" y="578.20" font-size="9.4" text-anchor="middle" font-weight="normal" font-style="normal" fill="#2a2a2a" textLength="13.86" lengthAdjust="spacingAndGlyphs">380</text>
<text x="343.04" y="578.20" font-size="9.4" text-anchor="middle" font-weight="normal" font-style="normal" fill="#2a2a2a" textLength="13.86" lengthAdjust="spacingAndGlyphs">338</text>
<text x="370.48" y="578.20" font-size="9.4" text-anchor="middle" font-weight="normal" font-style="normal" fill="#2a2a2a" textLength="13.86" lengthAdjust="spacingAndGlyphs">301</text>
<text x="397.92" y="578.20" font-size="9.4" text-anchor="middle" font-weight="normal" font-style="normal" fill="#2a2a2a" textLength="13.86" lengthAdjust="spacingAndGlyphs">257</text>
<text x="425.36" y="578.20" font-size="9.4" text-anchor="middle" font-weight="normal" font-style="normal" fill="#2a2a2a" textLength="13.86" lengthAdjust="spacingAndGlyphs">207</text>
<text x="452.80" y="578.20" font-size="9.4" text-anchor="middle" font-weight="normal" font-style="normal" fill="#2a2a2a" textLength="13.86" lengthAdjust="spacingAndGlyphs">173</text>
<text x="480.24" y="578.20" font-size="9.4" text-anchor="middle" font-weight="normal" font-style="normal" fill="#2a2a2a" textLength="13.86" lengthAdjust="spacingAndGlyphs">139</text>
<text x="507.68" y="578.20" font-size="9.4" text-anchor="middle" font-weight="normal" font-style="normal" fill="#2a2a2a" textLength="9.24" lengthAdjust="spacingAndGlyphs">98</text>
<text x="315.60" y="590.80" font-size="9.4" text-anchor="middle" font-weight="normal" font-style="normal" fill="#2a2a2a" textLength="13.86" lengthAdjust="spacingAndGlyphs">217</text>
<text x="343.04" y="590.80" font-size="9.4" text-anchor="middle" font-weight="normal" font-style="normal" fill="#2a2a2a" textLength="13.86" lengthAdjust="spacingAndGlyphs">180</text>
<text x="370.48" y="590.80" font-size="9.4" text-anchor="middle" font-weight="normal" font-style="normal" fill="#2a2a2a" textLength="13.86" lengthAdjust="spacingAndGlyphs">156</text>
<text x="397.92" y="590.80" font-size="9.4" text-anchor="middle" font-weight="normal" font-style="normal" fill="#2a2a2a" textLength="13.86" lengthAdjust="spacingAndGlyphs">134</text>
<text x="425.36" y="590.80" font-size="9.4" text-anchor="middle" font-weight="normal" font-style="normal" fill="#2a2a2a" textLength="13.86" lengthAdjust="spacingAndGlyphs">106</text>
<text x="452.80" y="590.80" font-size="9.4" text-anchor="middle" font-weight="normal" font-style="normal" fill="#2a2a2a" textLength="9.24" lengthAdjust="spacingAndGlyphs">81</text>
<text x="480.24" y="590.80" font-size="9.4" text-anchor="middle" font-weight="normal" font-style="normal" fill="#2a2a2a" textLength="9.24" lengthAdjust="spacingAndGlyphs">62</text>
<text x="507.68" y="590.80" font-size="9.4" text-anchor="middle" font-weight="normal" font-style="normal" fill="#2a2a2a" textLength="9.24" lengthAdjust="spacingAndGlyphs">45</text>
<rect x="0.5" y="0.5" width="519" height="599" fill="none" stroke="#505050" stroke-width="1"/>
</svg>
</body></html>
